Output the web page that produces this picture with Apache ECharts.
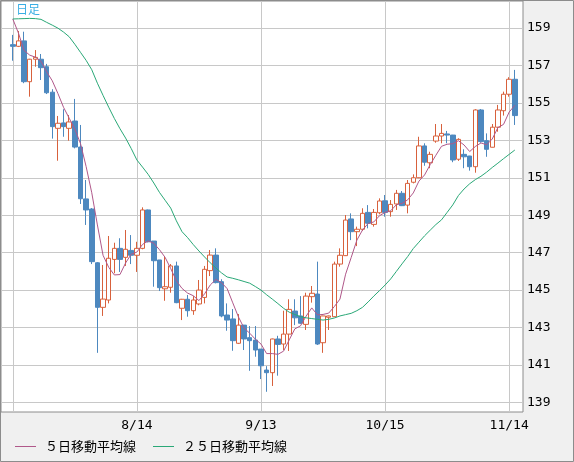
<!DOCTYPE html>
<html>
<head>
<meta charset="utf-8">
<script src="https://cdn.jsdelivr.net/npm/echarts@6/dist/echarts.min.js"></script>
<style>
  html, body { margin: 0; padding: 0; background: #f0f0f0; }
  #chart { width: 574px; height: 462px; }
</style>
</head>
<body>
<div id="chart"></div>
<script>
// daily candles, 7/15 .. 11/15 (index = trading day)
const opens = [
  158.11, 158.02, 158.31, 156.13, 157.33, 157.33, 156.93, 155.57, 153.64, 153.93,
  153.64, 154.03, 152.64, 149.87, 149.33, 146.46, 144.08, 144.47, 146.64, 147.23,
  146.75, 147.12, 146.86, 147.23, 149.28, 147.62, 146.61, 145.07, 145.15, 146.29,
  144.03, 144.51, 143.90, 144.26, 144.61, 146.04, 146.87, 145.45, 143.67, 143.46,
  142.16, 143.13, 142.46, 142.33, 141.85, 140.73, 140.59, 142.39, 142.12, 142.65,
  143.88, 143.62, 143.17, 144.65, 144.79, 142.19, 143.55, 143.58, 146.39, 146.84,
  148.80, 148.12, 148.25, 149.15, 148.51, 149.13, 149.77, 149.19, 149.60, 150.17,
  149.54, 150.76, 151.00, 152.70, 151.80, 152.96, 153.23, 153.34, 153.28, 151.99,
  152.25, 152.16, 151.59, 154.62, 152.98, 152.63, 153.70, 154.58, 155.46, 156.26
];
const closes = [
  158.02, 158.31, 156.13, 157.33, 157.43, 156.88, 155.54, 153.73, 153.91, 153.73,
  153.98, 152.64, 149.88, 149.28, 146.52, 144.08, 144.52, 146.70, 147.23, 146.64,
  147.18, 146.86, 147.23, 149.28, 147.58, 146.57, 145.13, 145.18, 146.29, 144.33,
  144.51, 143.90, 144.47, 145.00, 146.11, 146.87, 145.40, 143.62, 143.40, 142.30,
  143.13, 142.39, 142.30, 141.80, 140.96, 140.59, 142.39, 142.10, 142.65, 143.97,
  143.52, 143.23, 144.68, 144.83, 142.12, 143.62, 143.62, 146.39, 146.86, 148.74,
  148.12, 148.25, 149.10, 148.57, 149.15, 149.76, 149.15, 149.58, 150.17, 149.51,
  150.70, 151.00, 152.70, 151.83, 152.25, 153.23, 153.37, 153.28, 151.95, 153.05,
  152.12, 151.59, 154.62, 152.93, 152.52, 153.70, 154.62, 155.46, 156.26, 154.32
];
const lows = [
  157.25, 157.98, 156.05, 155.33, 156.93, 156.22, 155.47, 153.09, 151.91, 153.19,
  152.98, 152.57, 149.60, 148.48, 146.39, 141.65, 143.62, 144.29, 145.90, 145.97,
  146.29, 146.39, 145.97, 147.18, 147.55, 145.18, 144.95, 144.43, 144.86, 144.30,
  143.40, 143.58, 143.68, 144.19, 144.29, 145.75, 145.36, 143.55, 142.83, 141.76,
  142.12, 141.80, 140.69, 141.44, 140.25, 139.57, 139.88, 140.43, 141.80, 141.75,
  143.13, 143.19, 142.87, 144.33, 142.07, 141.65, 142.87, 143.56, 146.25, 146.82,
  147.67, 147.35, 148.16, 148.30, 148.39, 149.05, 148.92, 148.92, 149.28, 149.49,
  149.10, 150.70, 150.98, 151.64, 151.51, 152.87, 152.84, 152.84, 151.83, 151.90,
  151.51, 151.38, 151.27, 152.87, 152.12, 152.62, 153.46, 154.32, 155.33, 153.82
];
const highs = [
  158.63, 158.84, 158.80, 157.35, 157.82, 157.61, 157.08, 155.73, 154.30, 154.66,
  154.35, 155.21, 153.82, 150.88, 149.38, 146.50, 146.34, 147.89, 147.53, 147.77,
  148.21, 147.94, 147.58, 149.42, 149.30, 147.62, 146.61, 146.78, 146.39, 146.52,
  144.53, 144.74, 144.68, 145.54, 146.29, 147.14, 147.23, 145.58, 144.29, 143.99,
  143.72, 143.14, 143.08, 143.08, 141.85, 140.94, 142.41, 142.56, 143.90, 144.51,
  144.51, 144.68, 144.86, 145.22, 146.52, 143.63, 143.64, 146.52, 147.23, 149.01,
  149.10, 148.39, 149.37, 149.54, 149.33, 149.90, 150.08, 149.81, 150.35, 150.29,
  150.88, 151.18, 153.19, 152.84, 152.39, 153.87, 153.87, 153.50, 153.29, 153.11,
  152.52, 152.17, 154.66, 154.67, 153.37, 153.87, 154.89, 155.60, 156.37, 156.76
];
const ma5 = [
  159.48, 158.73, 157.80, 157.55, 157.44, 157.22, 156.66, 156.18, 155.50, 154.76,
  154.18, 153.60, 152.83, 151.60, 150.20, 148.48, 146.86, 146.22, 145.81, 145.83,
  146.45, 146.92, 147.03, 147.44, 147.63, 147.50, 147.16, 146.75, 146.15, 145.50,
  145.09, 144.84, 144.70, 144.44, 144.80, 145.27, 145.57, 145.40, 145.08, 144.32,
  143.57, 142.97, 142.70, 142.38, 142.12, 141.61, 141.61, 141.57, 141.74, 142.34,
  142.93, 143.09, 143.61, 144.05, 143.68, 143.70, 143.77, 144.12, 144.52, 145.85,
  146.75, 147.67, 148.21, 148.56, 148.64, 148.97, 149.15, 149.24, 149.56, 149.63,
  149.82, 150.19, 150.82, 151.15, 151.70, 152.20, 152.68, 152.79, 152.82, 152.98,
  152.75, 152.40, 152.67, 152.86, 152.76, 153.07, 153.68, 153.85, 154.51, 154.87
];
const ma25 = [
  159.48, 159.49, 159.50, 159.51, 159.50, 159.46, 159.30, 159.15, 158.99, 158.78,
  158.53, 158.13, 157.70, 157.27, 156.77, 156.05, 155.40, 154.77, 154.17, 153.62,
  153.12, 152.56, 151.95, 151.57, 151.18, 150.72, 150.22, 149.80, 149.38, 148.70,
  148.12, 147.80, 147.43, 147.09, 146.77, 146.46, 146.18, 145.92, 145.70, 145.63,
  145.55, 145.46, 145.37, 145.19, 145.00, 144.75, 144.52, 144.28, 144.03, 143.82,
  143.70, 143.58, 143.52, 143.48, 143.44, 143.40, 143.44, 143.51, 143.62, 143.69,
  143.76, 143.90, 144.08, 144.37, 144.68, 144.97, 145.27, 145.60, 146.00, 146.40,
  146.79, 147.22, 147.56, 147.90, 148.20, 148.50, 148.75, 149.15, 149.55, 150.05,
  150.40, 150.68, 150.90, 151.08, 151.30, 151.55, 151.78, 152.02, 152.25, 152.48
];
const gridIdx = [0, 22, 44, 66, 88];
const labelIdx = [22, 44, 66, 88];
const dateLabels = ['8/14', '9/13', '10/15', '11/14'];
const priceTicks = [139, 141, 143, 145, 147, 149, 151, 153, 155, 157, 159];

const candles = opens.map((o, i) => [i, o, closes[i], lows[i], highs[i]]);
const ma5Data = ma5.map((v, i) => [i, v]);
const ma25Data = ma25.map((v, i) => [i, v]);

const numFont = 'DejaVu Sans Mono';
const cjkFont = 'Noto Sans CJK JP';

const chart = echarts.init(document.getElementById('chart'));
chart.setOption({
  animation: false,
  backgroundColor: '#f0f0f0',
  grid: {
    left: 1, top: 1, right: 51, bottom: 50,
    show: true, backgroundColor: '#ffffff',
    borderColor: '#8c8c8c', borderWidth: 1
  },
  xAxis: {
    type: 'value',
    min: -2.09, max: 90.45,
    axisLine: { show: false },
    axisTick: { show: false, customValues: gridIdx },
    splitLine: { show: true, lineStyle: { color: '#c8c8c8', width: 1 } },
    axisLabel: {
      customValues: labelIdx,
      formatter: v => dateLabels[labelIdx.indexOf(v)] || '',
      color: '#000', fontSize: 13, fontFamily: numFont, margin: 7
    }
  },
  yAxis: {
    type: 'value',
    position: 'right',
    min: 138.49, max: 160.44,
    axisLine: { show: false },
    axisTick: { show: false, customValues: priceTicks },
    splitLine: { show: true, lineStyle: { color: '#c8c8c8', width: 1 } },
    axisLabel: {
      customValues: priceTicks,
      color: '#000', fontSize: 13, fontFamily: numFont, margin: 4
    }
  },
  legend: {
    left: 15, top: 440, padding: 0,
    icon: 'rect',
    itemWidth: 21, itemHeight: 1, itemGap: 17,
    selectedMode: false,
    data: ['５日移動平均線', '２５日移動平均線'],
    textStyle: { color: '#000', fontSize: 13, fontFamily: cjkFont, padding: [0, 0, 0, 4] }
  },
  graphic: [
    {
      type: 'rect', silent: true, z: 100,
      shape: { x: 0.5, y: 0.5, width: 573, height: 461 },
      style: { fill: null, stroke: '#8c8c8c', lineWidth: 1 }
    },
    {
      type: 'text', left: 16, top: 3, z: 100,
      style: { text: '日足', fill: '#3aaee4', fontSize: 12, fontFamily: cjkFont }
    }
  ],
  series: [
    {
      type: 'candlestick',
      data: candles,
      encode: { x: 0, y: [1, 2, 3, 4] },
      barWidth: 5,
      itemStyle: {
        color: '#ffffff', color0: '#4d88bf',
        borderColor: '#d8613c', borderColor0: '#4d88bf',
        borderWidth: 1
      }
    },
    {
      name: '５日移動平均線',
      type: 'line',
      data: ma5Data,
      symbol: 'none',
      z: 3,
      lineStyle: { color: '#b0588a', width: 1 },
      itemStyle: { color: '#b0588a' }
    },
    {
      name: '２５日移動平均線',
      type: 'line',
      data: ma25Data,
      symbol: 'none',
      z: 3,
      lineStyle: { color: '#2aa877', width: 1 },
      itemStyle: { color: '#2aa877' }
    }
  ]
});
</script>
</body>
</html>
